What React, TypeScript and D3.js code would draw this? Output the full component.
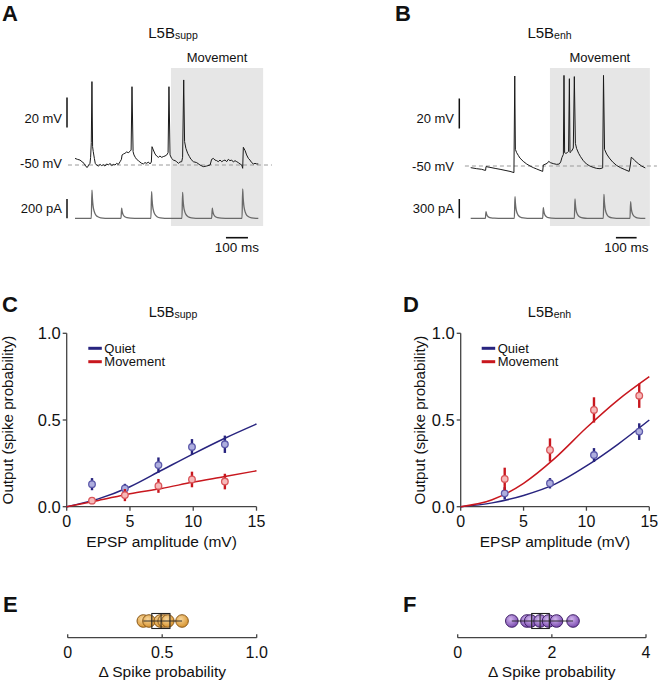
import React from "react";
import * as d3 from "d3";

const FONT = "'Liberation Sans', Arial, Helvetica, sans-serif";

// ---------- Panel A (L5B supp): membrane potential [ms, mV]
const voltageA: [number, number][] = [
  [0, -45.6], [10.6, -46.2], [22.7, -46.7], [31.8, -47.8], [40.9, -48.9], [50, -51.1], [56, -51.6], [62, -50],
  [68, -48.9], [71, -44.9], [74, -35.1], [77, 5.6], [80, -37.8], [83, -41.1], [88, -45.6], [92, -48.9], [98, -50],
  [106, -50.7], [114, -49.6], [121, -50.4], [129, -49.8], [136, -50.7], [144, -49.3], [152, -50], [159, -48.9],
  [167, -50.4], [174, -49.6], [182, -50], [189, -48.9], [197, -49.6], [205, -47.8], [211, -46.2], [214, -43.3],
  [220, -42.7], [227, -42.2], [235, -41.3], [242, -41.8], [250, -40.9], [255, -40], [259, 2.2], [264, -41.1],
  [268, -43.3], [274, -44.9], [280, -46.2], [288, -47.1], [295, -48], [303, -48.9], [311, -49.3], [318, -48.4],
  [326, -48.9], [333, -48], [341, -49.3], [347, -48], [350, -37.8], [356, -40], [364, -42.7], [371, -44],
  [379, -44.9], [386, -44], [394, -44.9], [401, -44.4], [409, -44], [417, -43.3], [423, -41.8], [427, 2.2],
  [432, -43.3], [439, -45.6], [447, -46.7], [455, -47.1], [462, -47.8], [470, -48.9], [477, -48], [485, -47.8],
  [489, -44.9], [494, 6.7], [498, -34.4], [504, -38.9], [512, -42.2], [520, -44.4], [527, -46.2], [538, -47.8],
  [553, -48.4], [568, -50], [583, -51.1], [598, -50.7], [614, -50], [621, -46.2], [629, -45.6], [636, -46.7],
  [644, -47.1], [651, -47.8], [659, -46.7], [667, -47.8], [674, -47.1], [682, -46.7], [689, -47.8], [697, -46.2],
  [704, -47.1], [712, -46.7], [720, -48], [727, -47.1], [735, -47.8], [742, -48.4], [750, -49.3], [758, -50],
  [762, -52.2], [765, -38.2], [773, -40.4], [780, -43.3], [788, -45.6], [795, -46.7], [803, -48.4], [811, -49.3],
  [818, -48.9], [826, -49.3], [833, -49.3],
];
const currentTimesA = [77, 212, 348, 489, 624, 762];
const currentAmpsA = [293, 104, 276, 269, 104, 304];
const movementA = [436, 855];

// ---------- Panel B (L5B enh): membrane potential [ms, mV]
const voltageB: [number, number][] = [
  [0, -51.1], [29, -51.8], [53, -52.2], [69, -52.9], [72, -52.9], [74, -50.4], [93, -50.9], [118, -51.6],
  [142, -52.2], [166, -52.9], [190, -53.6], [209, -54.4], [213, 10], [216, -38.9], [222, -41.1], [230, -42.9],
  [238, -44.7], [254, -46.9], [271, -48.7], [287, -50], [303, -51.1], [319, -52], [335, -52.9], [348, -53.6],
  [351, -49.3], [359, -48.9], [370, -48.2], [377, -46.9], [386, -47.8], [399, -48.4], [415, -48.9], [428, -48.7],
  [435, -47.3], [441, -44.4], [448, -42.2], [451, 10.4], [454, -41.1], [460, -41.6], [467, -41.1], [473, -40.2],
  [477, 8.2], [480, -41.1], [488, -40], [496, -38], [501, 9.6], [506, -34.9], [512, -38.4], [522, -41.6],
  [531, -43.8], [544, -46.4], [560, -48.7], [576, -50], [592, -50.9], [609, -51.6], [625, -51.8], [638, -51.3],
  [642, 10.4], [647, -38.9], [657, -42], [670, -44.7], [686, -47.3], [705, -49.6], [724, -51.1], [745, -52.4],
  [766, -53.6], [771, -50], [776, -44.2], [782, -44.7], [793, -46.4], [810, -48.4], [826, -50], [844, -51.3],
];
const currentTimesB = [74, 214, 351, 504, 644, 773];
const currentAmpsB = [103, 336, 165, 300, 373, 258];
const movementB = [383, 866];

// injected current waveform: [ms from onset, fraction of peak]
const epscShape: [number, number][] = [
  [-3, 0], [0, 1], [2, 0.72], [5, 0.45], [9, 0.28], [15, 0.15], [25, 0.06], [40, 0.015], [60, 0],
];

// ---------- Panel C / D input-output curves
const epspC = [2, 4.6, 7.25, 9.9, 12.5];
const quietC = [0.13, 0.105, 0.24, 0.345, 0.36];
const quietCErr = [0.035, 0.027, 0.044, 0.045, 0.05];
const moveC = [0.035, 0.067, 0.12, 0.157, 0.145];
const moveCErr = [0.02, 0.035, 0.04, 0.045, 0.045];
const fitQuietC: [number, number][] = [[0, 0], [2.5, 0.045], [5, 0.115], [7.5, 0.21], [10, 0.305], [12.5, 0.395], [15, 0.477]];
const fitMoveC: [number, number][] = [[0, 0], [2.5, 0.036], [5, 0.075], [7.5, 0.105], [10, 0.142], [12.5, 0.174], [15, 0.207]];

const epspD = [3.5, 7.1, 10.6, 14.2];
const quietD = [0.077, 0.135, 0.298, 0.433];
const quietDErr = [0.035, 0.03, 0.04, 0.048];
const moveD = [0.16, 0.327, 0.558, 0.64];
const moveDErr = [0.065, 0.067, 0.073, 0.07];
const fitQuietD: [number, number][] = [[0, 0], [2.5, 0.022], [5, 0.065], [7.5, 0.13], [10, 0.235], [12.5, 0.36], [15, 0.5]];
const fitMoveD: [number, number][] = [[0, 0], [2.5, 0.04], [5, 0.135], [7.5, 0.28], [10, 0.455], [12.5, 0.615], [15, 0.75]];

const yTicks = [0, 0.5, 1.0];
const xTicks = [0, 5, 10, 15];

// ---------- Panel E / F: delta spike probability
const deltaE = [0.4, 0.43, 0.49, 0.51, 0.53, 0.605];
const boxE = [0.445, 0.494, 0.541];
const ticksE = [0, 0.5, 1.0];
const deltaF = [1.15, 1.47, 1.55, 1.75, 1.93, 2.1, 2.45];
const boxF = [1.572, 1.75, 1.946];
const ticksF = [0, 2, 4];

const BLUE = "#28247f";
const RED = "#c8171e";

type TraceProps = {
  label: string; labelX: number; titleX: number; sub: string;
  voltage: [number, number][]; times: number[]; amps: number[]; movement: number[];
  duration: number; xRange: [number, number]; vBase: number; iBar: number; iBarLabel: string;
  barX: number; textRight: number; dash: [number, number]; timeBar: [number, number]; restTextY: number;
};

function TracePanel(p: TraceProps) {
  const x = d3.scaleLinear().domain([0, p.duration]).range(p.xRange);
  const yV = d3.scaleLinear().domain([-50, 0]).range([p.vBase, p.vBase - 75]);
  const iBase = 218.3;
  const yI = d3.scaleLinear().domain([0, p.iBar]).range([iBase, iBase - 19.3]);
  const vLine = d3.line<[number, number]>().x((d) => x(d[0])).y((d) => yV(d[1]));
  const cur: [number, number][] = [[0, 0]];
  p.times.forEach((t, i) => epscShape.forEach(([dt, f]) => cur.push([t + dt, p.amps[i] * f])));
  cur.push([p.duration, 0]);
  const iLine = d3.line<[number, number]>().x((d) => x(d[0])).y((d) => yI(d[1])).curve(d3.curveMonotoneX);
  const mx0 = x(p.movement[0]);
  const mx1 = x(p.movement[1]);
  return (
    <g>
      <text x={p.labelX} y={21} fontSize={22} fontWeight="bold">{p.label}</text>
      <text x={p.titleX} y={37.5} fontSize={15} textAnchor="middle">
        L5B<tspan fontSize={10.5} dy={1.5}>{p.sub}</tspan>
      </text>
      <rect x={mx0} y={68} width={mx1 - mx0} height={158} fill="#e6e6e6" />
      <text x={(mx0 + mx1) / 2} y={61.5} fontSize={13} textAnchor="middle">Movement</text>
      <line x1={x(p.dash[0])} x2={x(p.dash[1])} y1={yV(-50)} y2={yV(-50)} stroke="#9a9a9a" strokeWidth={1} strokeDasharray="4 3" />
      <path d={vLine(p.voltage) || ""} fill="none" stroke="#1a1a1a" strokeWidth={1} />
      <path d={iLine(cur) || ""} fill="none" stroke="#6a6a6a" strokeWidth={1.3} />
      <line x1={p.barX} x2={p.barX} y1={yV(-25)} y2={yV(-5)} stroke="#111" strokeWidth={1.5} />
      <text x={p.textRight} y={122.7} fontSize={13} textAnchor="end">20 mV</text>
      <text x={p.textRight} y={p.restTextY} fontSize={13} textAnchor="end">-50 mV</text>
      <line x1={p.barX} x2={p.barX} y1={yI(0)} y2={yI(p.iBar)} stroke="#111" strokeWidth={1.5} />
      <text x={p.textRight} y={212.5} fontSize={13} textAnchor="end">{p.iBarLabel}</text>
      <line x1={x(p.timeBar[0])} x2={x(p.timeBar[1])} y1={237.7} y2={237.7} stroke="#111" strokeWidth={1.6} />
      <text x={(x(p.timeBar[0]) + x(p.timeBar[1])) / 2} y={252} fontSize={13.5} textAnchor="middle">100 ms</text>
    </g>
  );
}

type CurveProps = {
  label: string; labelX: number; titleX: number; sub: string; xRange: [number, number]; ylabelX: number;
  xs: number[]; quiet: number[]; quietErr: number[]; move: number[]; moveErr: number[];
  fitQuiet: [number, number][]; fitMove: [number, number][]; legendX: number;
};

function CurvePanel(p: CurveProps) {
  const x = d3.scaleLinear().domain([0, 15]).range(p.xRange);
  const y = d3.scaleLinear().domain([0, 1]).range([506.7, 333.3]);
  const line = d3.line<[number, number]>().x((d) => x(d[0])).y((d) => y(d[1])).curve(d3.curveMonotoneX);
  const axis = "#444";
  const series = [
    { vals: p.quiet, err: p.quietErr, line: BLUE, fill: "#aeaede", ring: "#5d5aaa" },
    { vals: p.move, err: p.moveErr, line: RED, fill: "#f6b9b9", ring: "#d9555a" },
  ];
  return (
    <g>
      <text x={p.labelX} y={312} fontSize={22} fontWeight="bold">{p.label}</text>
      <text x={p.titleX} y={316.7} fontSize={14.5} textAnchor="middle">
        L5B<tspan fontSize={10.5} dy={1.5}>{p.sub}</tspan>
      </text>
      <line x1={x(0)} x2={x(15)} y1={y(0)} y2={y(0)} stroke={axis} strokeWidth={1.3} />
      <line x1={x(0)} x2={x(0)} y1={y(0)} y2={y(1)} stroke={axis} strokeWidth={1.3} />
      {yTicks.map((t) => (
        <g key={"y" + t}>
          <line x1={x(0) - 4} x2={x(0)} y1={y(t)} y2={y(t)} stroke={axis} strokeWidth={1.3} />
          <text x={x(0) - 6} y={y(t)} dy="0.36em" fontSize={16.5} textAnchor="end">{d3.format(".1f")(t)}</text>
        </g>
      ))}
      {xTicks.map((t) => (
        <g key={"x" + t}>
          <line x1={x(t)} x2={x(t)} y1={y(0)} y2={y(0) + 4} stroke={axis} strokeWidth={1.3} />
          <text x={x(t)} y={527} fontSize={16} textAnchor="middle">{t}</text>
        </g>
      ))}
      <text x={(x(0) + x(15)) / 2} y={547} fontSize={15.5} textAnchor="middle">EPSP amplitude (mV)</text>
      <text transform={`translate(${p.ylabelX},${y(0.5)}) rotate(-90)`} fontSize={15.2} textAnchor="middle">
        Output (spike probability)
      </text>
      <path d={line(p.fitQuiet) || ""} fill="none" stroke={BLUE} strokeWidth={1.5} />
      <path d={line(p.fitMove) || ""} fill="none" stroke={RED} strokeWidth={1.5} />
      {series.map((s, si) => (
        <g key={si}>
          {p.xs.map((xv, i) => (
            <line key={"e" + i} x1={x(xv)} x2={x(xv)} y1={y(s.vals[i] - s.err[i])} y2={y(s.vals[i] + s.err[i])}
              stroke={s.line} strokeWidth={2.4} />
          ))}
          {p.xs.map((xv, i) => (
            <circle key={"c" + i} cx={x(xv)} cy={y(s.vals[i])} r={3.3} fill={s.fill} stroke={s.ring} strokeWidth={1.3} />
          ))}
        </g>
      ))}
      <line x1={p.legendX} x2={p.legendX + 13.5} y1={348.3} y2={348.3} stroke={BLUE} strokeWidth={3} />
      <text x={p.legendX + 16} y={348.3} dy="0.35em" fontSize={13}>Quiet</text>
      <line x1={p.legendX} x2={p.legendX + 13.5} y1={361.7} y2={361.7} stroke={RED} strokeWidth={3} />
      <text x={p.legendX + 16} y={361.7} dy="0.35em" fontSize={13}>Movement</text>
    </g>
  );
}

type StripProps = {
  label: string; labelX: number; xRange: [number, number]; domain: [number, number]; ticks: number[];
  vals: number[]; box: number[]; grad: string; ring: string; tickFmt: (n: number) => string;
};

function StripPanel(p: StripProps) {
  const x = d3.scaleLinear().domain(p.domain).range(p.xRange);
  const axisY = 637.7;
  const cy = 621;
  const axis = "#444";
  return (
    <g>
      <text x={p.labelX} y={612} fontSize={22} fontWeight="bold">{p.label}</text>
      <line x1={x(p.domain[0])} x2={x(p.domain[1])} y1={axisY} y2={axisY} stroke={axis} strokeWidth={1.3} />
      {p.ticks.map((t) => (
        <g key={t}>
          <line x1={x(t)} x2={x(t)} y1={axisY} y2={axisY - 3.5} stroke={axis} strokeWidth={1.3} />
          <text x={x(t)} y={658} fontSize={16} textAnchor="middle">{p.tickFmt(t)}</text>
        </g>
      ))}
      <text x={(x(p.domain[0]) + x(p.domain[1])) / 2} y={677} fontSize={15.5} textAnchor="middle">Δ Spike probability</text>
      {p.vals.map((v, i) => (
        <circle key={i} cx={x(v)} cy={cy} r={6.3} fill={`url(#${p.grad})`} stroke={p.ring} strokeWidth={1} />
      ))}
      <line x1={x(d3.min(p.vals) as number)} x2={x(d3.max(p.vals) as number)} y1={cy} y2={cy} stroke="#222" strokeWidth={0.9} />
      <rect x={x(p.box[0])} y={cy - 7.5} width={x(p.box[2]) - x(p.box[0])} height={15} fill="none" stroke="#222" strokeWidth={1.1} />
      <line x1={x(p.box[1])} x2={x(p.box[1])} y1={cy - 7.5} y2={cy + 7.5} stroke="#222" strokeWidth={1} />
    </g>
  );
}

export default function App() {
  return (
    <svg width={659} height={680} style={{ position: "absolute", left: 0, top: 0, fontFamily: FONT }} fill="#111">
      <defs>
        <radialGradient id="gradE" cx="40%" cy="35%" r="65%">
          <stop offset="0%" stopColor="#f7d69c" />
          <stop offset="100%" stopColor="#d8942f" />
        </radialGradient>
        <radialGradient id="gradF" cx="40%" cy="35%" r="65%">
          <stop offset="0%" stopColor="#d2b6ee" />
          <stop offset="100%" stopColor="#7c4cb0" />
        </radialGradient>
      </defs>
      <TracePanel label="A" labelX={2} titleX={173} sub="supp" voltage={voltageA} times={currentTimesA}
        amps={currentAmpsA} movement={movementA} duration={833} xRange={[75, 258.3]} vBase={165}
        iBar={200} iBarLabel="200 pA" barX={67} textRight={62} dash={[-32, 895]} timeBar={[686, 786]} restTextY={168} />
      <TracePanel label="B" labelX={395} titleX={549.5} sub="enh" voltage={voltageB} times={currentTimesB}
        amps={currentAmpsB} movement={movementB} duration={844} xRange={[470.7, 645.3]} vBase={166}
        iBar={300} iBarLabel="300 pA" barX={459.3} textRight={454} dash={[-28, 900]} timeBar={[702, 802]} restTextY={171} />
      <CurvePanel label="C" labelX={2} titleX={173} sub="supp" xRange={[66.7, 256.5]} ylabelX={13}
        xs={epspC} quiet={quietC} quietErr={quietCErr} move={moveC} moveErr={moveCErr}
        fitQuiet={fitQuietC} fitMove={fitMoveC} legendX={88.3} />
      <CurvePanel label="D" labelX={403} titleX={549.5} sub="enh" xRange={[460.7, 649.3]} ylabelX={425}
        xs={epspD} quiet={quietD} quietErr={quietDErr} move={moveD} moveErr={moveDErr}
        fitQuiet={fitQuietD} fitMove={fitMoveD} legendX={481.7} />
      <StripPanel label="E" labelX={3} xRange={[67.7, 256.7]} domain={[0, 1]} ticks={ticksE} vals={deltaE}
        box={boxE} grad="gradE" ring="#8a5a1c" tickFmt={(n) => (n === 0 ? "0" : d3.format(".1f")(n))} />
      <StripPanel label="F" labelX={403} xRange={[457.7, 646]} domain={[0, 4]} ticks={ticksF} vals={deltaF}
        box={boxF} grad="gradF" ring="#3e1f66" tickFmt={(n) => String(n)} />
    </svg>
  );
}
